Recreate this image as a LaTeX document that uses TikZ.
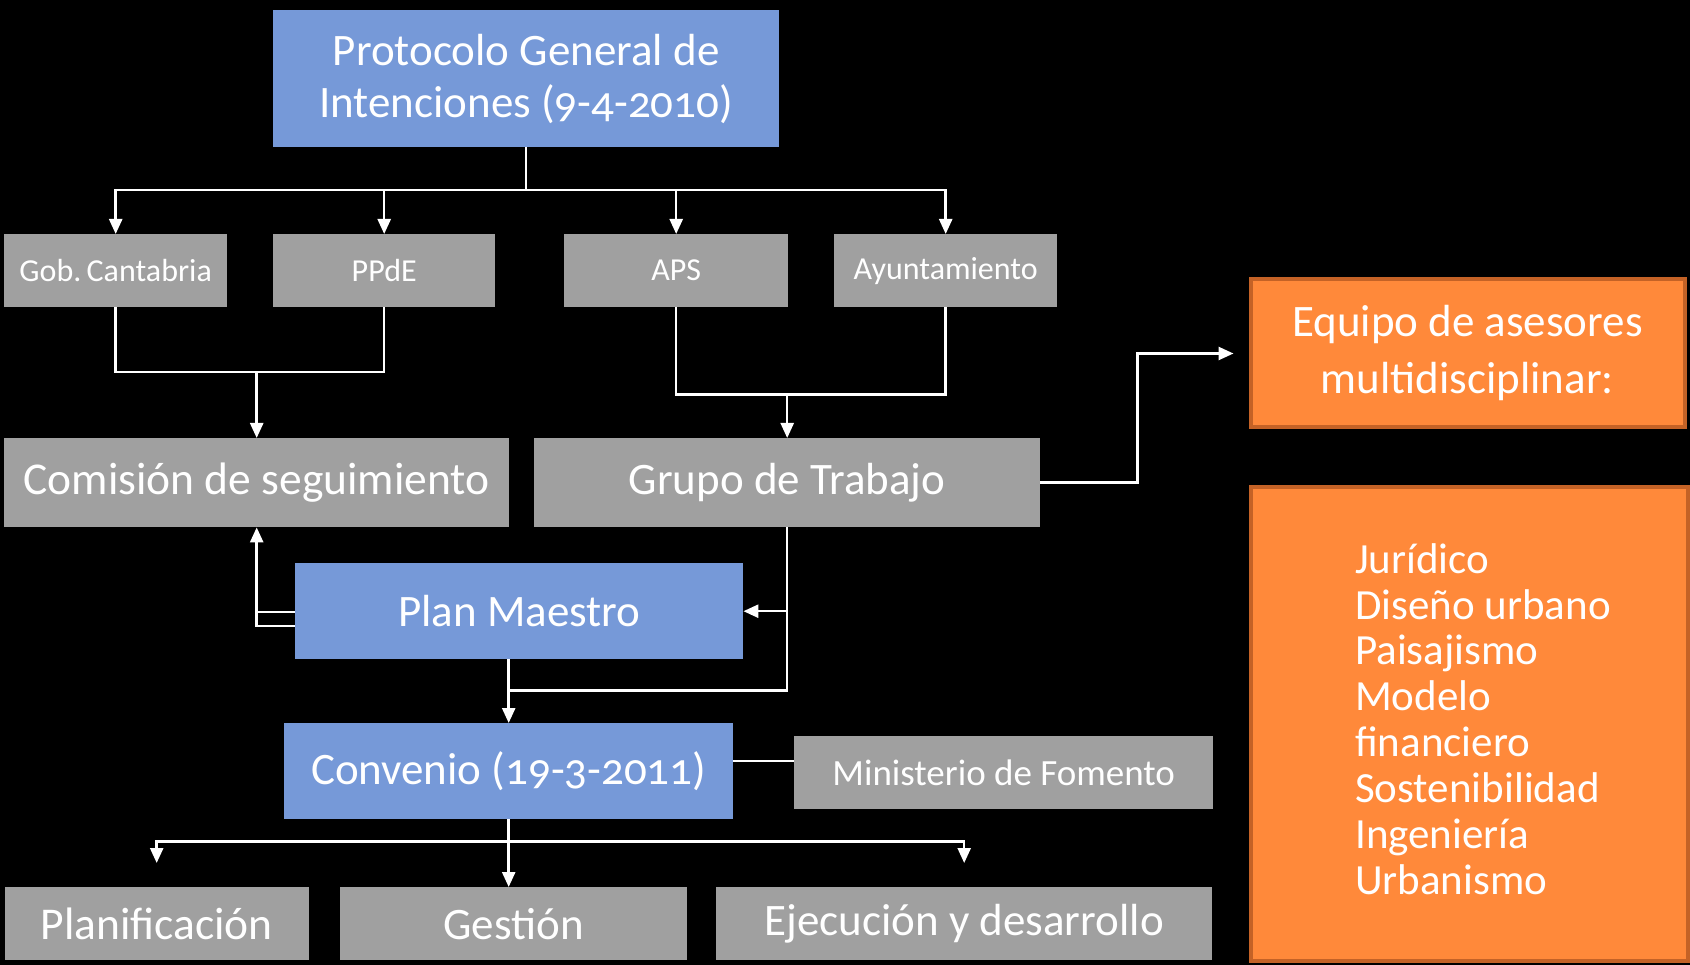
\documentclass[tikz,border=0pt]{standalone}
\usepackage{fontspec}
\setmainfont{Carlito}[Numbers=OldStyle]
\usetikzlibrary{arrows.meta}
\definecolor{bluebox}{RGB}{118,153,216}
\definecolor{graybox}{RGB}{160,160,160}
\definecolor{orangefill}{RGB}{255,137,58}
\definecolor{orangeedge}{RGB}{196,98,38}
\newcommand\fsz[2]{\fontsize{#1pt}{#2pt}\selectfont}
\tikzset{
  boxbase/.style={rectangle, inner sep=0pt, anchor=north west, text=white, align=center},
  bluenode/.style={boxbase, fill=bluebox},
  graynode/.style={boxbase, fill=graybox},
  orangenode/.style={boxbase, fill=orangefill, draw=orangeedge, line width=4pt},
  ln/.style={draw=white, line width=2.5pt},
  arr/.style={ln, -{Triangle[length=15pt,width=13pt]}},
}
\begin{document}
\begin{tikzpicture}[x=1pt,y=-1pt]
\fill[black] (0,0) rectangle (1690,965);
\useasboundingbox (0,0) rectangle (1690,965);

% nodes
\node[bluenode, minimum width=506pt, minimum height=137pt, font=\fsz{45}{52}] (proto) at (273,10) {Protocolo General de\\Intenciones (9-4-2010)};
\node[graynode, minimum width=223pt, minimum height=73pt, font=\fsz{32}{38}] (gob) at (4,234) {Gob.\,Cantabria};
\node[graynode, minimum width=222pt, minimum height=73pt, font=\fsz{32}{38}] (ppde) at (273,234) {PPdE};
\node[graynode, minimum width=224pt, minimum height=73pt, font=\fsz{32}{38}] (aps) at (564,234) {APS};
\node[graynode, minimum width=223pt, minimum height=73pt, font=\fsz{32}{38}] (ayto) at (834,234) {Ayuntamiento};
\node[graynode, minimum width=505pt, minimum height=89pt, font=\fsz{45.5}{52}] (comis) at (4,438) {Comisión de seguimiento};
\node[graynode, minimum width=506pt, minimum height=89pt, font=\fsz{45}{52}] (grupo) at (534,438) {Grupo de Trabajo};
\node[bluenode, minimum width=448pt, minimum height=96pt, font=\fsz{45}{52}] (pm) at (295,563) {Plan Maestro};
\node[bluenode, minimum width=449pt, minimum height=96pt, font=\fsz{45}{52}] (conv) at (284,723) {Convenio (19-3-2011)};
\node[graynode, minimum width=419pt, minimum height=73pt, font=\fsz{37}{44}] (mini) at (794,736) {Ministerio de Fomento};
\node[graynode, minimum width=304pt, minimum height=73pt, font=\fsz{45.5}{52}] (plan) at (4.5,887) {Planificación};
\node[graynode, minimum width=347pt, minimum height=73pt, font=\fsz{45}{52}] (gest) at (340,887) {Gestión};
\node[graynode, minimum width=496pt, minimum height=73pt, font=\fsz{45}{52}] (ejec) at (716,887) {Ejecución y desarrollo};
\node[orangenode, minimum width=434pt, minimum height=148pt, font=\fsz{45}{57}] (equipo) at (1248.5,277.5) {Equipo de asesores\\multidisciplinar:};
\node[orangenode, minimum width=437pt, minimum height=474pt] (lista) at (1248.5,484.5) {};
\node[anchor=west, align=left, inner sep=0pt, text=white, font=\fsz{43}{45.9}] (items) at (1355,719)
  {Jurídico\\Diseño urbano\\Paisajismo\\Modelo\\financiero\\Sostenibilidad\\Ingeniería\\Urbanismo};

% bus coordinates
\coordinate (b1) at (0,190);
\coordinate (b2) at (0,372);
\coordinate (b3) at (0,394.7);
\coordinate (turn) at (1137.3,0);
\coordinate (b5) at (0,690.7);
\coordinate (b6) at (0,841.7);
\coordinate (pml) at (0,626);
\coordinate (cml) at (0,761);

% Protocolo -> row 1
\draw[ln] (proto.south) -- (proto.south |- b1);
\draw[arr] (proto.south |- b1) -| (gob.north);
\draw[arr] (proto.south |- b1) -| (ayto.north);
\draw[arr] (ppde.north |- b1) -- (ppde.north);
\draw[arr] (aps.north |- b1) -- (aps.north);

% row 1 -> Comision / Grupo
\draw[ln] (gob.south) |- (ppde.south |- b2) -- (ppde.south);
\draw[arr] (comis.north |- b2) -- (comis.north);
\draw[ln] (aps.south) |- (ayto.south |- b3) -- (ayto.south);
\draw[arr] (grupo.north |- b3) -- (grupo.north);

% Grupo -> Equipo
\draw[arr] (grupo.east) -- (grupo.east -| turn) |- ([xshift=-15pt]equipo.west);

% Plan Maestro -> Comision
\draw[arr] (pm.west |- pml) -| (comis.south);
\draw[ln] ([yshift=-1pt]pm.west) -- ([yshift=-1pt]comis.south |- pm.west);

% Grupo -> Plan Maestro, Convenio
\draw[ln] (grupo.south) |- (conv.north |- b5);
\draw[arr] (grupo.south |- pm.east) -- (pm.east);
\draw[arr] (conv.north |- pm.south) -- (conv.north);

% Convenio -- Ministerio
\draw[ln] (conv.east |- cml) -- (mini.west |- cml);

% Convenio -> bottom row
\draw[arr] (conv.south) -- (conv.south |- gest.north);
\draw[arr] (conv.south |- b6) -| ([yshift=24pt]plan.north);
\draw[arr] (conv.south |- b6) -| ([yshift=24pt]ejec.north);
\end{tikzpicture}
\end{document}
